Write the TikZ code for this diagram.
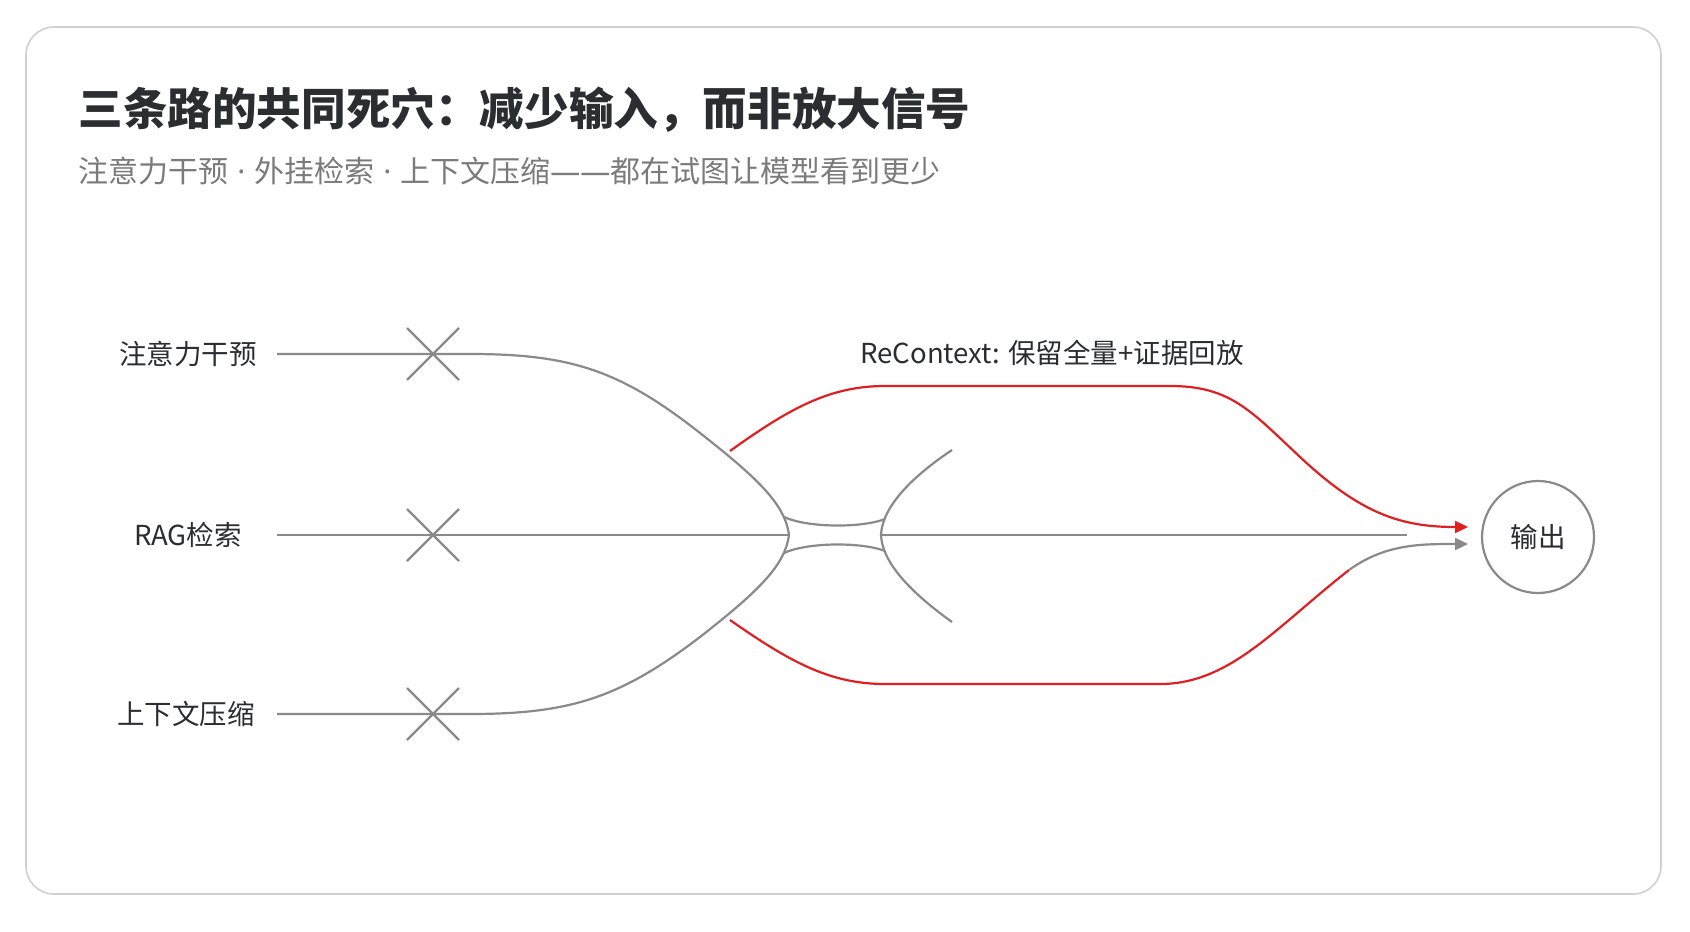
\documentclass[tikz,border=0pt]{standalone}
\usepackage{fontspec}
\setmainfont{Noto Sans CJK SC}
\newfontfamily\latinfont{Noto Sans}
\usetikzlibrary{arrows.meta}
\definecolor{inkdark}{HTML}{2B2D31}
\definecolor{inkgray}{HTML}{7B7B7B}
\definecolor{linegray}{HTML}{8A8A8A}
\definecolor{framegray}{HTML}{D0D0D0}
\definecolor{hired}{HTML}{E02020}
\newcommand{\middot}{\hspace{0.3em}{\latinfont·}\hspace{0.3em}}
\begin{document}
\begin{tikzpicture}[x=0.5pt,y=-0.5pt]
\tikzstyle{txt}=[inner sep=0pt,text=inkdark,font=\fontsize{13.75pt}{16pt}\selectfont]
\tikzstyle{gline}=[draw=linegray,line width=1.1pt]
\tikzstyle{rline}=[draw=hired,line width=1.1pt]
\tikzstyle{arrowend}=[-{Triangle[length=6.5pt,width=6pt]}]
\useasboundingbox (0,0) rectangle (1690,931);
\fill[white] (0,0) rectangle (1690,931);
\draw[draw=framegray,line width=0.8pt,rounded corners=14pt] (26,27) rectangle (1661,894);

\path (78,110) node[anchor=west,inner sep=0pt,text=inkdark,font=\fontsize{22.3pt}{26pt}\selectfont\bfseries](title){三条路的共同死穴：减少输入，而非放大信号};
\path (78,171.5) node[anchor=west,inner sep=0pt,text=inkgray,font=\fontsize{15pt}{18pt}\selectfont](sub){注意力干预\middot 外挂检索\middot 上下文压缩{\latinfont ——}都在试图让模型看到更少};

\path (188,354) node[txt](attn){注意力干预} (188,535) node[txt](rag){RAG检索} (186,714) node[txt](comp){上下文压缩};
\path (1052,353) node[txt](recx){ReContext: 保留全量+证据回放};
\path (1538,537) node[txt,draw=linegray,line width=1.1pt,shape=circle,minimum size=56pt](out){输出};

\coordinate (s1) at (277,354); \coordinate (x1) at (433,354);
\coordinate (s2) at (277,535); \coordinate (x2) at (433,535);
\coordinate (s3) at (277,714); \coordinate (x3) at (433,714);
\coordinate (kl) at (789,535); \coordinate (kr) at (881,535);
\coordinate (mend) at (1407,535);
\coordinate (rtop) at (1468,527); \coordinate (rbot) at (1468,544);

\draw[gline] (x1)+(-26,-26) -- +(26,26) (x1)+(-26,26) -- +(26,-26);
\draw[gline] (x2)+(-26,-26) -- +(26,26) (x2)+(-26,26) -- +(26,-26);
\draw[gline] (x3)+(-26,-26) -- +(26,26) (x3)+(-26,26) -- +(26,-26);

\draw[gline] (s1) -- (x1) -- (470,354) .. controls (570,354) and (620,370) .. (700,433) .. controls (760,480) and (785,505) .. (kl);
\draw[gline] (s3) -- (x3) -- (470,714) .. controls (570,714) and (620,698) .. (700,637) .. controls (760,590) and (785,565) .. (kl);
\draw[gline] (s2) -- (kl);
\draw[gline] (kr) -- (mend);
\draw[gline] (784,517) .. controls (808,528) and (862,528) .. (885,519);
\draw[gline] (784,553) .. controls (808,542) and (862,542) .. (885,551);
\draw[gline] (kr) .. controls (882,508) and (910,478) .. (952,450);
\draw[gline] (kr) .. controls (882,562) and (910,592) .. (952,622);

\draw[rline,arrowend,hired] (730,451) .. controls (790,408) and (830,386) .. (885,386) -- (1170,386) .. controls (1230,386) and (1250,410) .. (1300,457) .. controls (1360,513) and (1400,527) .. (rtop);
\draw[rline] (730,620) .. controls (790,662) and (830,684) .. (885,684) -- (1160,684) .. controls (1230,684) and (1275,628) .. (1349,570);
\draw[gline,arrowend,linegray] (1349,570) .. controls (1385,544) and (1420,544) .. (rbot);
\end{tikzpicture}
\end{document}
